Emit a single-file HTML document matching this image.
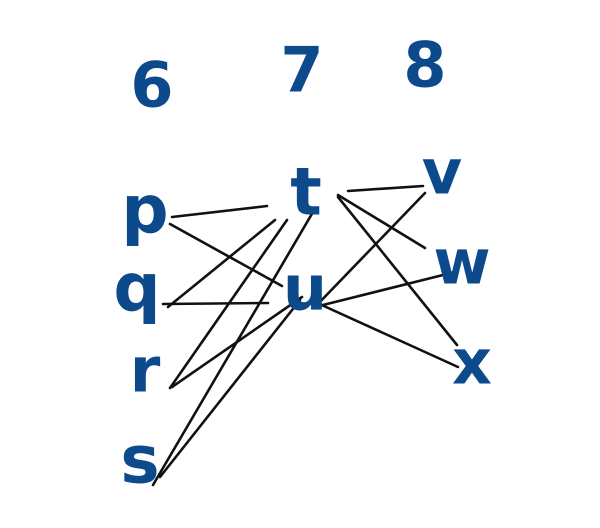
<!DOCTYPE html>
<html><head><meta charset="utf-8"><style>
html,body{margin:0;padding:0;background:#fff;}
svg{display:block}
text{font-family:"DejaVu Sans","Liberation Sans",sans-serif;font-weight:bold;fill:#0c4a8c;text-anchor:middle;dominant-baseline:central;}
</style></head><body>
<svg width="600" height="528" viewBox="0 0 600 528">
<g>
<text x="152" y="85" font-size="62">6</text>
<text x="302" y="70" font-size="62">7</text>
<text x="425" y="65" font-size="62">8</text>
</g>
<g id="edges" stroke="#111" stroke-width="2.6" stroke-linecap="round"></g>
<g>
<text x="145" y="210" font-size="66">p</text>
<text x="306" y="192" font-size="66">t</text>
<text x="442" y="172" font-size="62">v</text>
<text x="137" y="288" font-size="66">q</text>
<text x="305" y="288" font-size="62">u</text>
<text x="462" y="262" font-size="62">w</text>
<text x="145" y="370" font-size="62">r</text>
<text x="472" y="362" font-size="62">x</text>
<text x="140" y="460" font-size="66">s</text>
</g>
</svg>
<script>
const edgeStarts = [[172,217],[170,224],[168,307],[163,304],[170,388],[172,387],[153,485],[160,477],[348,191],[338,195],[338,197],[425,193],[315,307],[315,302]];
const edgeEnds = [[267,206],[282,286],[275,220],[268,303],[287,220],[302,297],[313,212],[300,300],[423,186],[425,248],[457,345],[315,307],[455,272],[458,367]];
const g = document.getElementById('edges');
edgeStarts.forEach((s,i)=>{
  const e = edgeEnds[i];
  const l = document.createElementNS('http://www.w3.org/2000/svg','line');
  l.setAttribute('x1',s[0]);l.setAttribute('y1',s[1]);
  l.setAttribute('x2',e[0]);l.setAttribute('y2',e[1]);
  
  
  g.appendChild(l);
});
</script>
</body></html>
